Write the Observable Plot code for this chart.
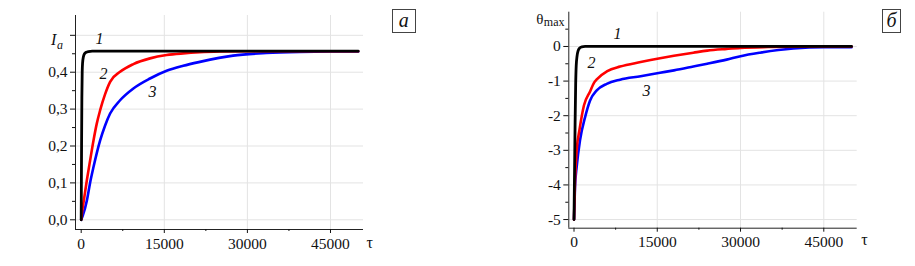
<!DOCTYPE html>
<html>
<head>
<meta charset="utf-8">
<script src="https://cdn.jsdelivr.net/npm/d3@7"></script>
<script src="https://cdn.jsdelivr.net/npm/@observablehq/plot@0.6"></script>
<style>
  html, body { margin: 0; padding: 0; background: #fff; }
  #wrap { position: relative; width: 915px; height: 266px; display: flex; font-family: "Liberation Serif", serif; }
  #wrap svg, #wrap svg text { font-family: "Liberation Serif", serif !important; }
  .box { position: absolute; border: 1px solid #444; box-sizing: border-box; font-style: italic; font-size: 20px; text-align: center; line-height: 21px; color: #111; font-family: "Liberation Serif", serif; }
</style>
</head>
<body>
<div id="wrap"></div>
<script>
// ---------- Panel а : I_a(τ) ----------
const tauA1 = [0, 60, 120, 180, 250, 400, 600, 900, 1300, 2000, 10000, 30000, 50000];
const ia1   = [0, 0.18, 0.33, 0.40, 0.425, 0.442, 0.450, 0.454, 0.456, 0.457, 0.457, 0.457, 0.457];
const tauA2 = [0, 150, 500, 1020, 1600, 2220, 2800, 3420, 4300, 5220, 7020, 9420, 12420, 15420, 18400, 21420, 25000, 30000, 40000, 50000];
const ia2   = [0, 0.02, 0.055, 0.107, 0.16, 0.215, 0.26, 0.297, 0.34, 0.374, 0.401, 0.422, 0.4375, 0.4465, 0.451, 0.454, 0.456, 0.457, 0.457, 0.457];
const tauA3 = [0, 300, 1020, 1600, 2220, 2800, 3420, 4300, 5220, 7020, 9420, 12420, 15420, 18420, 21420, 27420, 33420, 39420, 45000, 50000];
const ia3   = [0, 0.012, 0.052, 0.1, 0.143, 0.18, 0.215, 0.255, 0.288, 0.324, 0.356, 0.383, 0.404, 0.4175, 0.428, 0.445, 0.452, 0.455, 0.456, 0.456];

// ---------- Panel б : θ_max(τ) ----------
const tauB1 = [0, 100, 200, 300, 400, 550, 750, 1000, 1400, 2000, 50000];
const th1   = [-5, -3.6, -2.2, -1.1, -0.55, -0.28, -0.12, -0.05, -0.01, 0, 0];
const tauB2 = [0, 180, 480, 1000, 1800, 2900, 3600, 4100, 6000, 8300, 12000, 15500, 18000, 21500, 24000, 27500, 30000, 35000, 40000, 50000];
const th2   = [-5, -3.9, -3.0, -2.4, -1.7, -1.3, -1.05, -0.95, -0.71, -0.58, -0.45, -0.34, -0.27, -0.18, -0.12, -0.07, -0.04, -0.015, -0.005, 0];
const tauB3 = [0, 180, 480, 1080, 2000, 2900, 4100, 5900, 8300, 12000, 15500, 18000, 21500, 24000, 27500, 30000, 33500, 39500, 45000, 50000];
const th3   = [-5, -4.06, -3.48, -2.71, -2.04, -1.56, -1.27, -1.08, -0.96, -0.86, -0.76, -0.69, -0.58, -0.5, -0.38, -0.28, -0.18, -0.06, -0.02, -0.02];

const xTicks = [0, 15000, 30000, 45000];
const xMinor = [7500, 22500, 37500];
const yTicksA = [0, 0.1, 0.2, 0.3, 0.4, 0.5];
const yMinorA = [0.05, 0.15, 0.25, 0.35, 0.45];
const yTicksB = [-5, -4, -3, -2, -1, 0];
const yMinorB = [-4.5, -3.5, -2.5, -1.5, -0.5, 0.5];
const curveNames = ["1", "2", "3"];
const colors = ["#000000", "#ff0000", "#0000ff"];

const toRows = (t, v, k) => t.map((x, i) => ({tau: x, v: v[i], k}));
const rowsA = [...toRows(tauA1, ia1, "1"), ...toRows(tauA2, ia2, "2"), ...toRows(tauA3, ia3, "3")];
const rowsB = [...toRows(tauB1, th1, "1"), ...toRows(tauB2, th2, "2"), ...toRows(tauB3, th3, "3")];

const xDomA = [-1029, 50957], yDomA = [-0.0263, 0.5537];
const xDomB = [-937, 51020], yDomB = [-5.25, 0.99];

const gridColor = "#e3e3e3";
const common = (xDom, yDom) => [
  Plot.gridX(xTicks.slice(1), {stroke: gridColor, strokeOpacity: 1}),
  Plot.ruleX([xDom[0]], {stroke: "#222"}),
  Plot.ruleY([yDom[0]], {stroke: "#222"}),
  Plot.axisX({ticks: xTicks, tickSize: 4, tickPadding: 4, tickFormat: d => String(d), label: null}),
  Plot.axisX({ticks: xMinor, tickSize: 2, tickFormat: () => "", label: null}),
];

const lineMarks = rows => [
  Plot.line(rows.filter(d => d.k === "3"), {x: "tau", y: "v", stroke: colors[2], strokeWidth: 2.6, curve: "monotone-x"}),
  Plot.line(rows.filter(d => d.k === "2"), {x: "tau", y: "v", stroke: colors[1], strokeWidth: 2.6, curve: "monotone-x"}),
  Plot.line(rows.filter(d => d.k === "1"), {x: "tau", y: "v", stroke: colors[0], strokeWidth: 2.8, curve: "monotone-x"}),
];

const style = "font-family: 'Liberation Serif', serif; font-size: 15.5px; color: #111; background: #fff; overflow: visible;";
const serif = "Liberation Serif";

const fmtA = d => d === 0.5 ? "" : d.toFixed(1).replace(".", ",");

const plotA = Plot.plot({
  width: 457, height: 266,
  marginLeft: 75, marginRight: 94, marginTop: 15, marginBottom: 37,
  style,
  x: {domain: xDomA},
  y: {domain: yDomA},
  marks: [
    Plot.gridY(yTicksA, {stroke: gridColor, strokeOpacity: 1}),
    ...common(xDomA, yDomA),
    Plot.axisY({ticks: yTicksA, tickSize: 5, tickPadding: 3, tickFormat: fmtA, label: null}),
    Plot.axisY({ticks: yMinorA, tickSize: 3, tickFormat: () => "", label: null}),
    ...lineMarks(rowsA),
    Plot.text(curveNames, {x: [3300, 4025, 12870], y: [0.489, 0.396, 0.348], text: d => d, fontStyle: "italic", fontSize: 16, fontFamily: serif}),
    Plot.text(["τ"], {frameAnchor: "bottom-right", dx: 3, dy: 18, textAnchor: "start", fontSize: 16, fontFamily: serif, text: d => d}),
    Plot.text(["I"], {frameAnchor: "top-left", dx: -24.5, dy: 18, fontStyle: "italic", fontSize: 16, fontFamily: serif, text: d => d}),
    Plot.text(["a"], {frameAnchor: "top-left", dx: -18.5, dy: 24.5, fontStyle: "italic", fontSize: 12, fontFamily: serif, text: d => d})
  ]
});

const fmtB = d => d === 0 ? "0" : String(d);

const plotB = Plot.plot({
  width: 458, height: 266,
  marginLeft: 111.3, marginRight: 58.3, marginTop: 11.7, marginBottom: 38.3,
  style,
  x: {domain: xDomB},
  y: {domain: yDomB},
  marks: [
    Plot.gridY(yTicksB, {stroke: gridColor, strokeOpacity: 1}),
    ...common(xDomB, yDomB),
    Plot.axisY({ticks: yTicksB, tickSize: 5, tickPadding: 3, tickFormat: fmtB, label: null}),
    Plot.axisY({ticks: yMinorB, tickSize: 3, tickFormat: () => "", label: null}),
    ...lineMarks(rowsB),
    Plot.text(curveNames, {x: [7836, 3150, 13060], y: [0.376, -0.46, -1.27], text: d => d, fontStyle: "italic", fontSize: 16, fontFamily: serif}),
    Plot.text(["τ"], {frameAnchor: "bottom-right", dx: 4, dy: 17, textAnchor: "start", fontSize: 16, fontFamily: serif, text: d => d}),
    Plot.text(["θ"], {frameAnchor: "top-left", dx: -25.4, dy: 1.6, textAnchor: "end", fontSize: 15, fontFamily: serif, text: d => d}),
    Plot.text(["max"], {frameAnchor: "top-left", dx: -25, dy: 5.5, textAnchor: "start", fontSize: 12, fontFamily: serif, text: d => d})
  ]
});

const wrap = document.getElementById("wrap");
wrap.appendChild(plotA);
wrap.appendChild(plotB);

const boxA = document.createElement("div");
boxA.className = "box";
boxA.style.cssText = "left:391.7px;top:9.3px;width:24px;height:24px;";
boxA.textContent = "а";
wrap.appendChild(boxA);

const boxB = document.createElement("div");
boxB.className = "box";
boxB.style.cssText = "left:882px;top:9.3px;width:19px;height:24px;";
boxB.textContent = "б";
wrap.appendChild(boxB);
</script>
</body>
</html>
